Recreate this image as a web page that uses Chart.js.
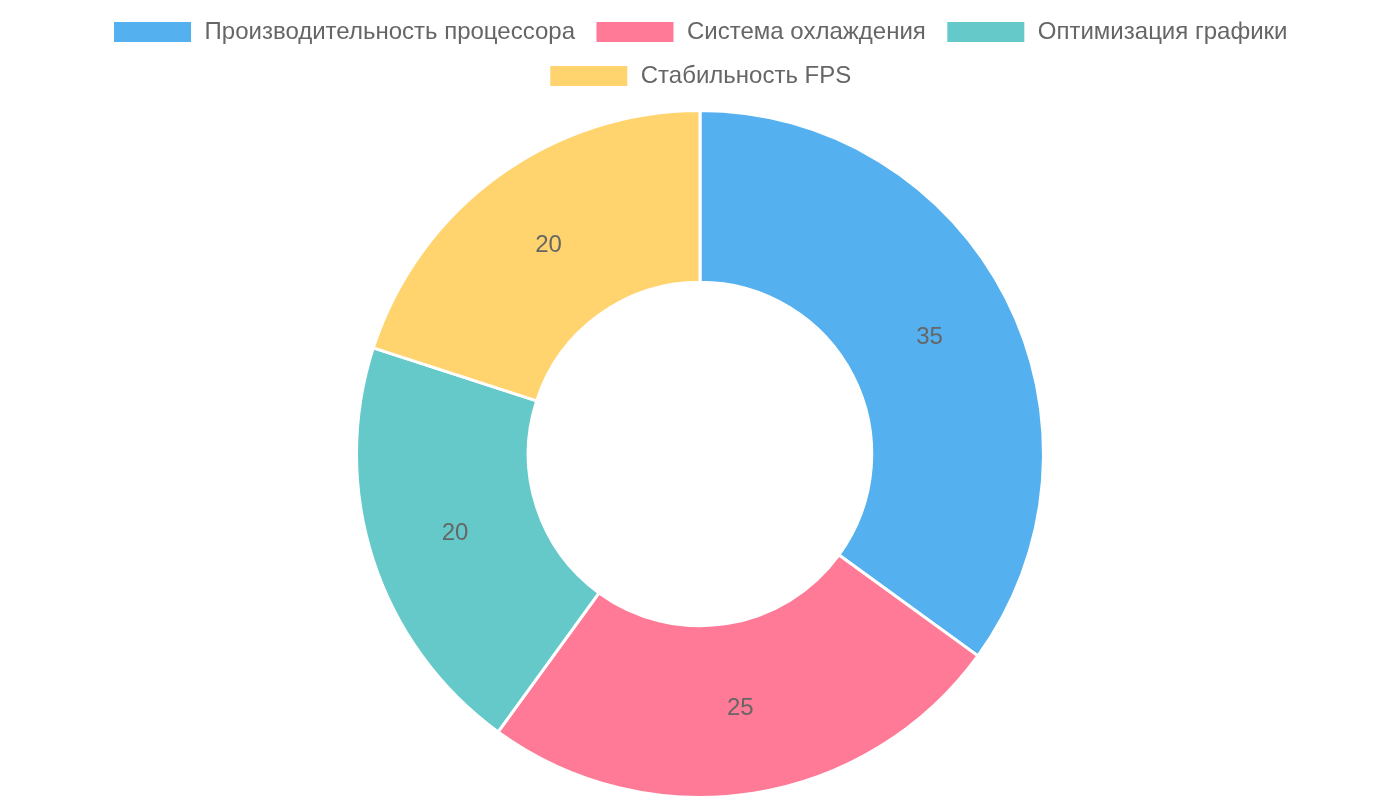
<!DOCTYPE html>
<html>
<head>
<meta charset="utf-8">
<script src="https://cdn.jsdelivr.net/npm/chart.js@4"></script>
<style>
html,body{margin:0;padding:0;background:#fff;}
#wrap{width:1400px;height:800px;}
</style>
</head>
<body>
<div id="wrap"><canvas id="c"></canvas></div>
<script>
const categories = ["Производительность процессора", "Система охлаждения", "Оптимизация графики", "Стабильность FPS"];
const values = [35, 25, 20, 20];
const colors = ["rgba(54,162,235,0.85)", "rgba(255,99,132,0.85)", "rgba(75,192,192,0.85)", "rgba(255,205,86,0.85)"];

const labelPlugin = {
  id: 'sliceLabels',
  afterDatasetsDraw(chart) {
    const ctx = chart.ctx;
    const meta = chart.getDatasetMeta(0);
    ctx.save();
    ctx.font = '24px "Liberation Sans", Arial, sans-serif';
    ctx.fillStyle = '#666';
    ctx.textAlign = 'center';
    ctx.textBaseline = 'middle';
    meta.data.forEach((arc, i) => {
      const p = arc.tooltipPosition();
      ctx.fillText(String(chart.data.datasets[0].data[i]), p.x, p.y);
    });
    ctx.restore();
  }
};

const legendMargin = {
  id: 'legendMargin',
  beforeInit(chart) {
    const legend = chart.legend;
    const origFit = legend.fit;
    legend.fit = function () {
      origFit.call(this);
      this.height += 11;
    };
  }
};

new Chart(document.getElementById('c'), {
  type: 'doughnut',
  data: {
    labels: categories,
    datasets: [{
      data: values,
      backgroundColor: colors,
      borderColor: '#fff',
      borderWidth: 3
    }]
  },
  options: {
    responsive: true,
    maintainAspectRatio: false,
    animation: false,
    cutout: '50%',
    layout: { padding: { top: 0, bottom: 1 } },
    plugins: {
      legend: {
        position: 'top',
        labels: {
          font: { size: 24, family: '"Liberation Sans", Arial, sans-serif' },
          color: '#666',
          boxWidth: 80,
          boxHeight: 23,
          padding: 20
        }
      },
      tooltip: { enabled: false }
    }
  },
  plugins: [labelPlugin, legendMargin]
});
</script>
</body>
</html>
